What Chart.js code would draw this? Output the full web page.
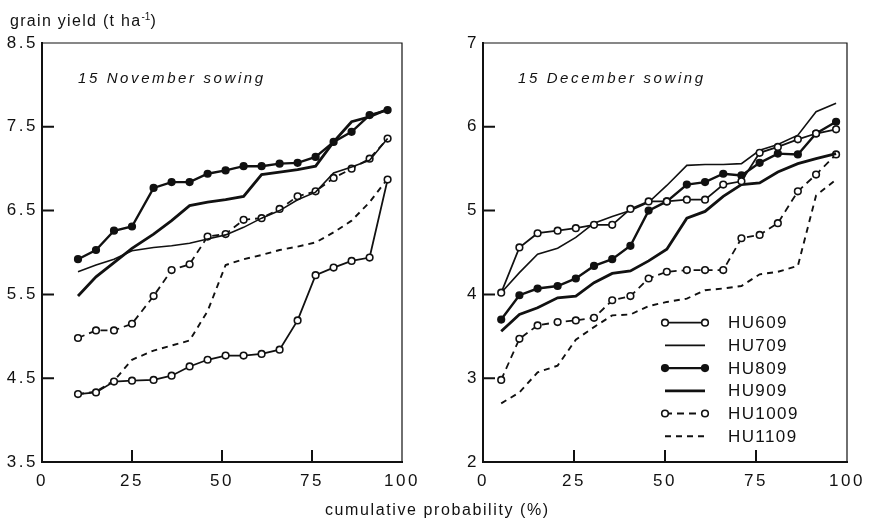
<!DOCTYPE html>
<html lang="en">
<head>
  <meta charset="UTF-8">
  <title>Grain yield - cumulative probability</title>
  <style>
    body {
      margin: 0;
      background: #ffffff;
      font-family: "Liberation Sans", Arial, sans-serif;
      color: #111;
    }

    #wrap {
      position: relative;
      width: 876px;
      height: 518px;
      overflow: hidden;
    }

    canvas {
      position: absolute;
      top: 0;
    }

    #novChart { left: 0; }
    #decChart { left: 440px; }

    .txt {
      position: absolute;
      white-space: nowrap;
      line-height: 1;
    }

    #yTitle {
      left: 10px;
      top: 12px;
      font-size: 16px;
      letter-spacing: 1.3px;
    }

    #yTitle sup {
      font-size: 10px;
      letter-spacing: 0;
    }

    #xTitle {
      left: 325px;
      top: 502px;
      font-size: 16px;
      letter-spacing: 1.6px;
    }

    .sowing {
      top: 70px;
      font-size: 15px;
      font-style: italic;
      letter-spacing: 2.6px;
    }
  </style>
</head>
<body>

  <div id="wrap">
    <canvas id="novChart" width="440" height="518"></canvas>
    <canvas id="decChart" width="436" height="518"></canvas>

    <div class="txt" id="yTitle">grain yield (t ha<sup>-1</sup>)</div>
    <div class="txt sowing" style="left:78px">15 November sowing</div>
    <div class="txt sowing" style="left:518px">15 December sowing</div>
    <div class="txt" id="xTitle">cumulative probability (%)</div>
  </div>

  <script src="https://cdn.jsdelivr.net/npm/chart.js"></script>

  <script>
    // cultivars, in legend order
    const cultivars = ["HU609", "HU709", "HU809", "HU909", "HU1009", "HU1109"];

    // 15 November sowing: cumulative probability (%) and grain yield (t/ha)
    const probNov = [10, 15, 20, 25, 31, 36, 41, 46, 51, 56, 61, 66, 71, 76, 81, 86, 91, 96];
    const nov609  = [4.31, 4.33, 4.46, 4.47, 4.48, 4.53, 4.64, 4.72, 4.77, 4.77, 4.79, 4.84, 5.19, 5.73, 5.82, 5.90, 5.94, 6.87];
    const nov709  = [5.77, 5.85, 5.92, 6.02, 6.06, 6.08, 6.11, 6.16, 6.21, 6.30, 6.41, 6.50, 6.63, 6.72, 6.95, 7.02, 7.10, 7.36];
    const nov809  = [5.92, 6.03, 6.26, 6.31, 6.77, 6.84, 6.84, 6.94, 6.98, 7.03, 7.03, 7.06, 7.07, 7.14, 7.32, 7.44, 7.64, 7.70];
    const nov909  = [5.48, 5.71, 5.88, 6.05, 6.22, 6.38, 6.56, 6.60, 6.63, 6.67, 6.93, 6.96, 6.99, 7.03, 7.32, 7.56, 7.62, 7.71];
    const nov1009 = [4.98, 5.07, 5.07, 5.15, 5.48, 5.79, 5.86, 6.19, 6.22, 6.39, 6.41, 6.52, 6.67, 6.73, 6.89, 7.00, 7.12, 7.36];
    const nov1109 = [4.31, 4.34, 4.47, 4.72, 4.83, 4.89, 4.95, 5.30, 5.85, 5.92, 5.97, 6.03, 6.07, 6.12, 6.24, 6.38, 6.60, 6.88];

    // 15 December sowing
    const probDec = [5, 10, 15, 20.5, 25.5, 30.5, 35.5, 40.5, 45.5, 50.5, 56, 61, 66, 71, 76, 81, 86.5, 91.5, 97];
    const dec609  = [4.02, 4.56, 4.73, 4.76, 4.79, 4.83, 4.83, 5.02, 5.11, 5.11, 5.13, 5.13, 5.31, 5.35, 5.69, 5.76, 5.85, 5.92, 5.97];
    const dec709  = [4.02, 4.26, 4.48, 4.55, 4.68, 4.85, 4.93, 5.00, 5.10, 5.30, 5.54, 5.55, 5.55, 5.56, 5.72, 5.79, 5.90, 6.18, 6.28];
    const dec809  = [3.70, 3.99, 4.07, 4.10, 4.19, 4.34, 4.42, 4.58, 5.00, 5.11, 5.31, 5.34, 5.44, 5.42, 5.57, 5.68, 5.67, 5.92, 6.06];
    const dec909  = [3.56, 3.76, 3.84, 3.96, 3.98, 4.14, 4.25, 4.28, 4.40, 4.54, 4.91, 4.99, 5.17, 5.31, 5.33, 5.46, 5.56, 5.62, 5.68];
    const dec1009 = [2.98, 3.47, 3.63, 3.67, 3.69, 3.72, 3.93, 3.98, 4.19, 4.27, 4.29, 4.29, 4.29, 4.67, 4.71, 4.85, 5.23, 5.43, 5.67];
    const dec1109 = [2.70, 2.83, 3.07, 3.15, 3.46, 3.61, 3.75, 3.76, 3.86, 3.91, 3.95, 4.05, 4.07, 4.10, 4.24, 4.27, 4.34, 5.18, 5.37];

    // axis ticks
    const probTicks = [0, 25, 50, 75, 100];
    const novYield = { min: 3.5, max: 8.5, step: 1 };
    const decYield = { min: 2, max: 7, step: 1 };

    const INK = "#111";
    const FONT = "'Liberation Sans', Arial, sans-serif";

    // line style per cultivar: width, dash, marker (null / open / filled)
    const lineStyle = {
      HU609:  { width: 1.8, dash: [],     marker: "open" },
      HU709:  { width: 1.6, dash: [],     marker: null },
      HU809:  { width: 2.4, dash: [],     marker: "filled" },
      HU909:  { width: 2.8, dash: [],     marker: null },
      HU1009: { width: 1.8, dash: [7, 5], marker: "open" },
      HU1109: { width: 1.9, dash: [6, 5], marker: null }
    };

    function makeDatasets(xs, series) {
      return cultivars.map((name, k) => {
        const st = lineStyle[name];
        return {
          label: name,
          data: xs.map((x, i) => ({ x: x, y: series[k][i] })),
          borderColor: INK,
          borderWidth: st.width,
          borderDash: st.dash,
          tension: 0,
          fill: false,
          pointRadius: st.marker ? 3.3 : 0,
          pointBorderWidth: 1.6,
          pointBorderColor: INK,
          pointBackgroundColor: st.marker === "open" ? "#ffffff" : INK
        };
      });
    }

    // thin top/right edges of the plot box and inward tick marks
    const frame = {
      id: "frame",
      beforeDraw(chart) {
        chart.ctx.letterSpacing = "2.5px";
      },
      afterDraw(chart) {
        const { ctx, chartArea: a, scales } = chart;
        ctx.save();
        ctx.setLineDash([]);
        ctx.strokeStyle = INK;
        ctx.lineWidth = 1.2;
        ctx.beginPath();
        ctx.moveTo(a.left, a.top);
        ctx.lineTo(a.right, a.top);
        ctx.lineTo(a.right, a.bottom);
        ctx.stroke();

        // ticks point into the plot; the end ticks sit on the frame anyway
        ctx.lineWidth = 2;
        ctx.beginPath();
        scales.x.ticks.slice(1, -1).forEach(t => {
          const px = scales.x.getPixelForValue(t.value);
          ctx.moveTo(px, a.bottom);
          ctx.lineTo(px, a.bottom - 12);
        });
        scales.y.ticks.slice(1, -1).forEach(t => {
          const py = scales.y.getPixelForValue(t.value);
          ctx.moveTo(a.left, py);
          ctx.lineTo(a.left + 12, py);
        });
        ctx.stroke();
        ctx.restore();
      }
    };

    // legend drawn inside the plot, samples built from the dataset styles
    const innerLegend = {
      id: "innerLegend",
      afterDraw(chart, args, opts) {
        if (!opts.show) return;
        const ctx = chart.ctx;
        chart.data.datasets.forEach((ds, i) => {
          const y = opts.top + i * opts.rowGap;
          const x0 = opts.left, x1 = opts.left + opts.sample;
          ctx.save();
          ctx.strokeStyle = ds.borderColor;
          ctx.lineWidth = ds.borderWidth;
          ctx.setLineDash(ds.borderDash);
          ctx.beginPath();
          ctx.moveTo(x0, y);
          ctx.lineTo(x1, y);
          ctx.stroke();
          ctx.setLineDash([]);
          if (ds.pointRadius > 0) {
            [x0, x1].forEach(px => {
              ctx.beginPath();
              ctx.arc(px, y, ds.pointRadius, 0, Math.PI * 2);
              ctx.fillStyle = ds.pointBackgroundColor;
              ctx.fill();
              ctx.lineWidth = ds.pointBorderWidth;
              ctx.stroke();
            });
          }
          ctx.letterSpacing = "1.4px";
          ctx.fillStyle = INK;
          ctx.font = "17px " + FONT;
          ctx.textBaseline = "middle";
          ctx.fillText(ds.label, opts.left + opts.textGap, y + 1);
          ctx.restore();
        });
      }
    };

    function createPanel(id, xs, series, yr, padRight, legend) {
      const ctx = document.getElementById(id).getContext("2d");
      return new Chart(ctx, {
        type: "line",
        data: { datasets: makeDatasets(xs, series) },
        options: {
          responsive: false,
          animation: false,
          layout: { padding: { top: 43, right: padRight, bottom: 0, left: 0 } },
          scales: {
            x: {
              type: "linear",
              min: 0,
              max: 100,
              afterBuildTicks: s => { s.ticks = probTicks.map(v => ({ value: v })); },
              afterFit: s => { s.height = 56; },
              ticks: {
                color: INK,
                font: { family: FONT, size: 17 },
                padding: 9,
                maxRotation: 0,
                autoSkip: false
              },
              grid: { drawOnChartArea: false, drawTicks: false },
              border: { display: true, color: INK, width: 2 }
            },
            y: {
              min: yr.min,
              max: yr.max,
              afterFit: s => { s.width = legend ? 43 : 42; },
              ticks: {
                stepSize: yr.step,
                color: INK,
                font: { family: FONT, size: 17 },
                padding: 4
              },
              grid: { drawOnChartArea: false, drawTicks: false },
              border: { display: true, color: INK, width: 2 }
            }
          },
          plugins: {
            legend: { display: false },
            tooltip: { enabled: false },
            innerLegend: legend || { show: false }
          }
        },
        plugins: [frame, innerLegend]
      });
    }

    createPanel("novChart", probNov,
      [nov609, nov709, nov809, nov909, nov1009, nov1109], novYield, 38, null);

    createPanel("decChart", probDec,
      [dec609, dec709, dec809, dec909, dec1009, dec1109], decYield, 29,
      { show: true, left: 225, sample: 40, textGap: 63, top: 322.7, rowGap: 22.7 });
  </script>

</body>
</html>
